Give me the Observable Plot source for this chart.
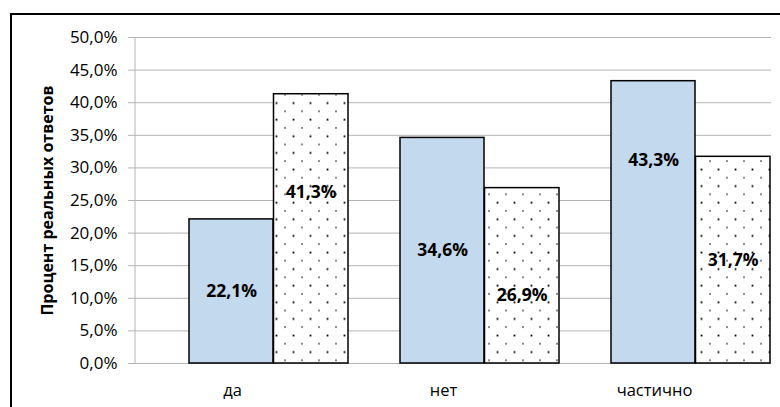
<!DOCTYPE html>
<html>
<head>
<meta charset="utf-8">
<script src="https://cdn.jsdelivr.net/npm/d3@7"></script>
<script src="https://cdn.jsdelivr.net/npm/@observablehq/plot@0.6"></script>
<style>
  html, body { margin: 0; padding: 0; background: #fff; overflow: hidden; }
  #wrap { position: relative; width: 780px; height: 407px; overflow: hidden; }
  #box { position: absolute; left: 10px; top: 13px; width: 800px; height: 420px;
         border-left: 2px solid #000; border-top: 2px solid #000; box-sizing: border-box; }
  #chart { position: absolute; left: 0; top: 0; }
</style>
</head>
<body>
<div id="wrap"><div id="box"></div><div id="chart"></div></div>
<script>
// Answer categories and the share of answers (percent) for each of the two groups
const categories = ["да", "нет", "частично"];
const seriesNames = ["Группа 1", "Группа 2"];
const group1 = [22.1, 34.6, 43.3];
const group2 = [41.3, 26.9, 31.7];
const yTicks = [0, 5, 10, 15, 20, 25, 30, 35, 40, 45, 50];
const yTitle = "Процент реальных ответов";

// Russian-style number formatting: decimal comma, one decimal place
const fmt = d3.formatLocale({decimal: ",", thousands: "\u00a0", grouping: [3], currency: ["", ""]}).format(".1f");
const pct = v => fmt(v) + "%";

const rows = categories.flatMap((c, i) => [
  {category: c, series: seriesNames[0], value: group1[i]},
  {category: c, series: seriesNames[1], value: group2[i]}
]);
const rows1 = rows.filter(d => d.series === seriesNames[0]);
const rows2 = rows.filter(d => d.series === seriesNames[1]);

// a few value labels sit off the bar centre (in percentage points)
const labelLift = {"частично|Группа 1": 9.5, "да|Группа 2": 5.6, "нет|Группа 2": -3.0};
const labelY = d => d.value / 2 + (labelLift[d.category + "|" + d.series] || 0);

const svgNS = "http://www.w3.org/2000/svg";

// dotted fill used by the second group
const dotsDefs = () => {
  const defs = document.createElementNS(svgNS, "defs");
  defs.innerHTML = `
    <pattern id="dots" patternUnits="userSpaceOnUse" x="0" y="0" width="17" height="16.6">
      <rect width="17" height="16.6" fill="#fff"></rect>
      <rect x="3.6" y="2.6" width="1.8" height="1.8" fill="#000"></rect>
      <rect x="12.2" y="11.1" width="1.6" height="1.2" fill="#111"></rect>
    </pattern>`;
  return defs;
};

// vertical axis line along the left edge of the plotting area
const axisLine = (index, scales, values, dims) => {
  const l = document.createElementNS(svgNS, "line");
  l.setAttribute("x1", dims.marginLeft);
  l.setAttribute("x2", dims.marginLeft);
  l.setAttribute("y1", dims.marginTop);
  l.setAttribute("y2", dims.height - dims.marginBottom);
  l.setAttribute("stroke", "#b4b4b4");
  return l;
};

const chart = Plot.plot({
  width: 780,
  height: 407,
  marginLeft: 135,
  marginRight: 9,
  marginTop: 37,
  marginBottom: 44,
  style: {fontFamily: "'Open Sans', sans-serif", fontSize: "16px", color: "#000", background: "transparent"},
  x: {type: "band", domain: categories, range: [189, 771], paddingInner: 0.245, paddingOuter: 0, label: null},
  y: {domain: [0, 50], label: null},
  marks: [
    dotsDefs,
    Plot.gridY(yTicks, {stroke: "#b4b4b4", strokeOpacity: 1}),
    axisLine,
    Plot.axisY(yTicks, {tickSize: 7, tickPadding: 11, tickFormat: pct, stroke: "#b4b4b4", fill: "#000", fontSize: 17, label: null}),
    Plot.axisX({tickSize: 0, tickPadding: 21, dx: -36.5, fontSize: 16.5, label: null}),
    Plot.text([yTitle], {frameAnchor: "left", textAnchor: "middle", rotate: -90, dx: -88, fontWeight: "bold", fontSize: 16}),
    Plot.barY(rows1, {x: "category", y: "value", insetRight: 75, fill: "#c3d9ee", stroke: "#000", strokeWidth: 1.5}),
    Plot.barY(rows2, {x: "category", y: "value", insetLeft: 84.5, fill: "url(#dots)", stroke: "#000", strokeWidth: 1.5}),
    Plot.text(rows1, {x: "category", y: labelY, text: d => pct(d.value), dx: -37.25, fontWeight: "bold", fontSize: 17.5}),
    Plot.text(rows2, {x: "category", y: labelY, text: d => pct(d.value), dx: 42.25, fontWeight: "bold", fontSize: 17.5})
  ]
});

document.getElementById("chart").appendChild(chart);
</script>
</body>
</html>
